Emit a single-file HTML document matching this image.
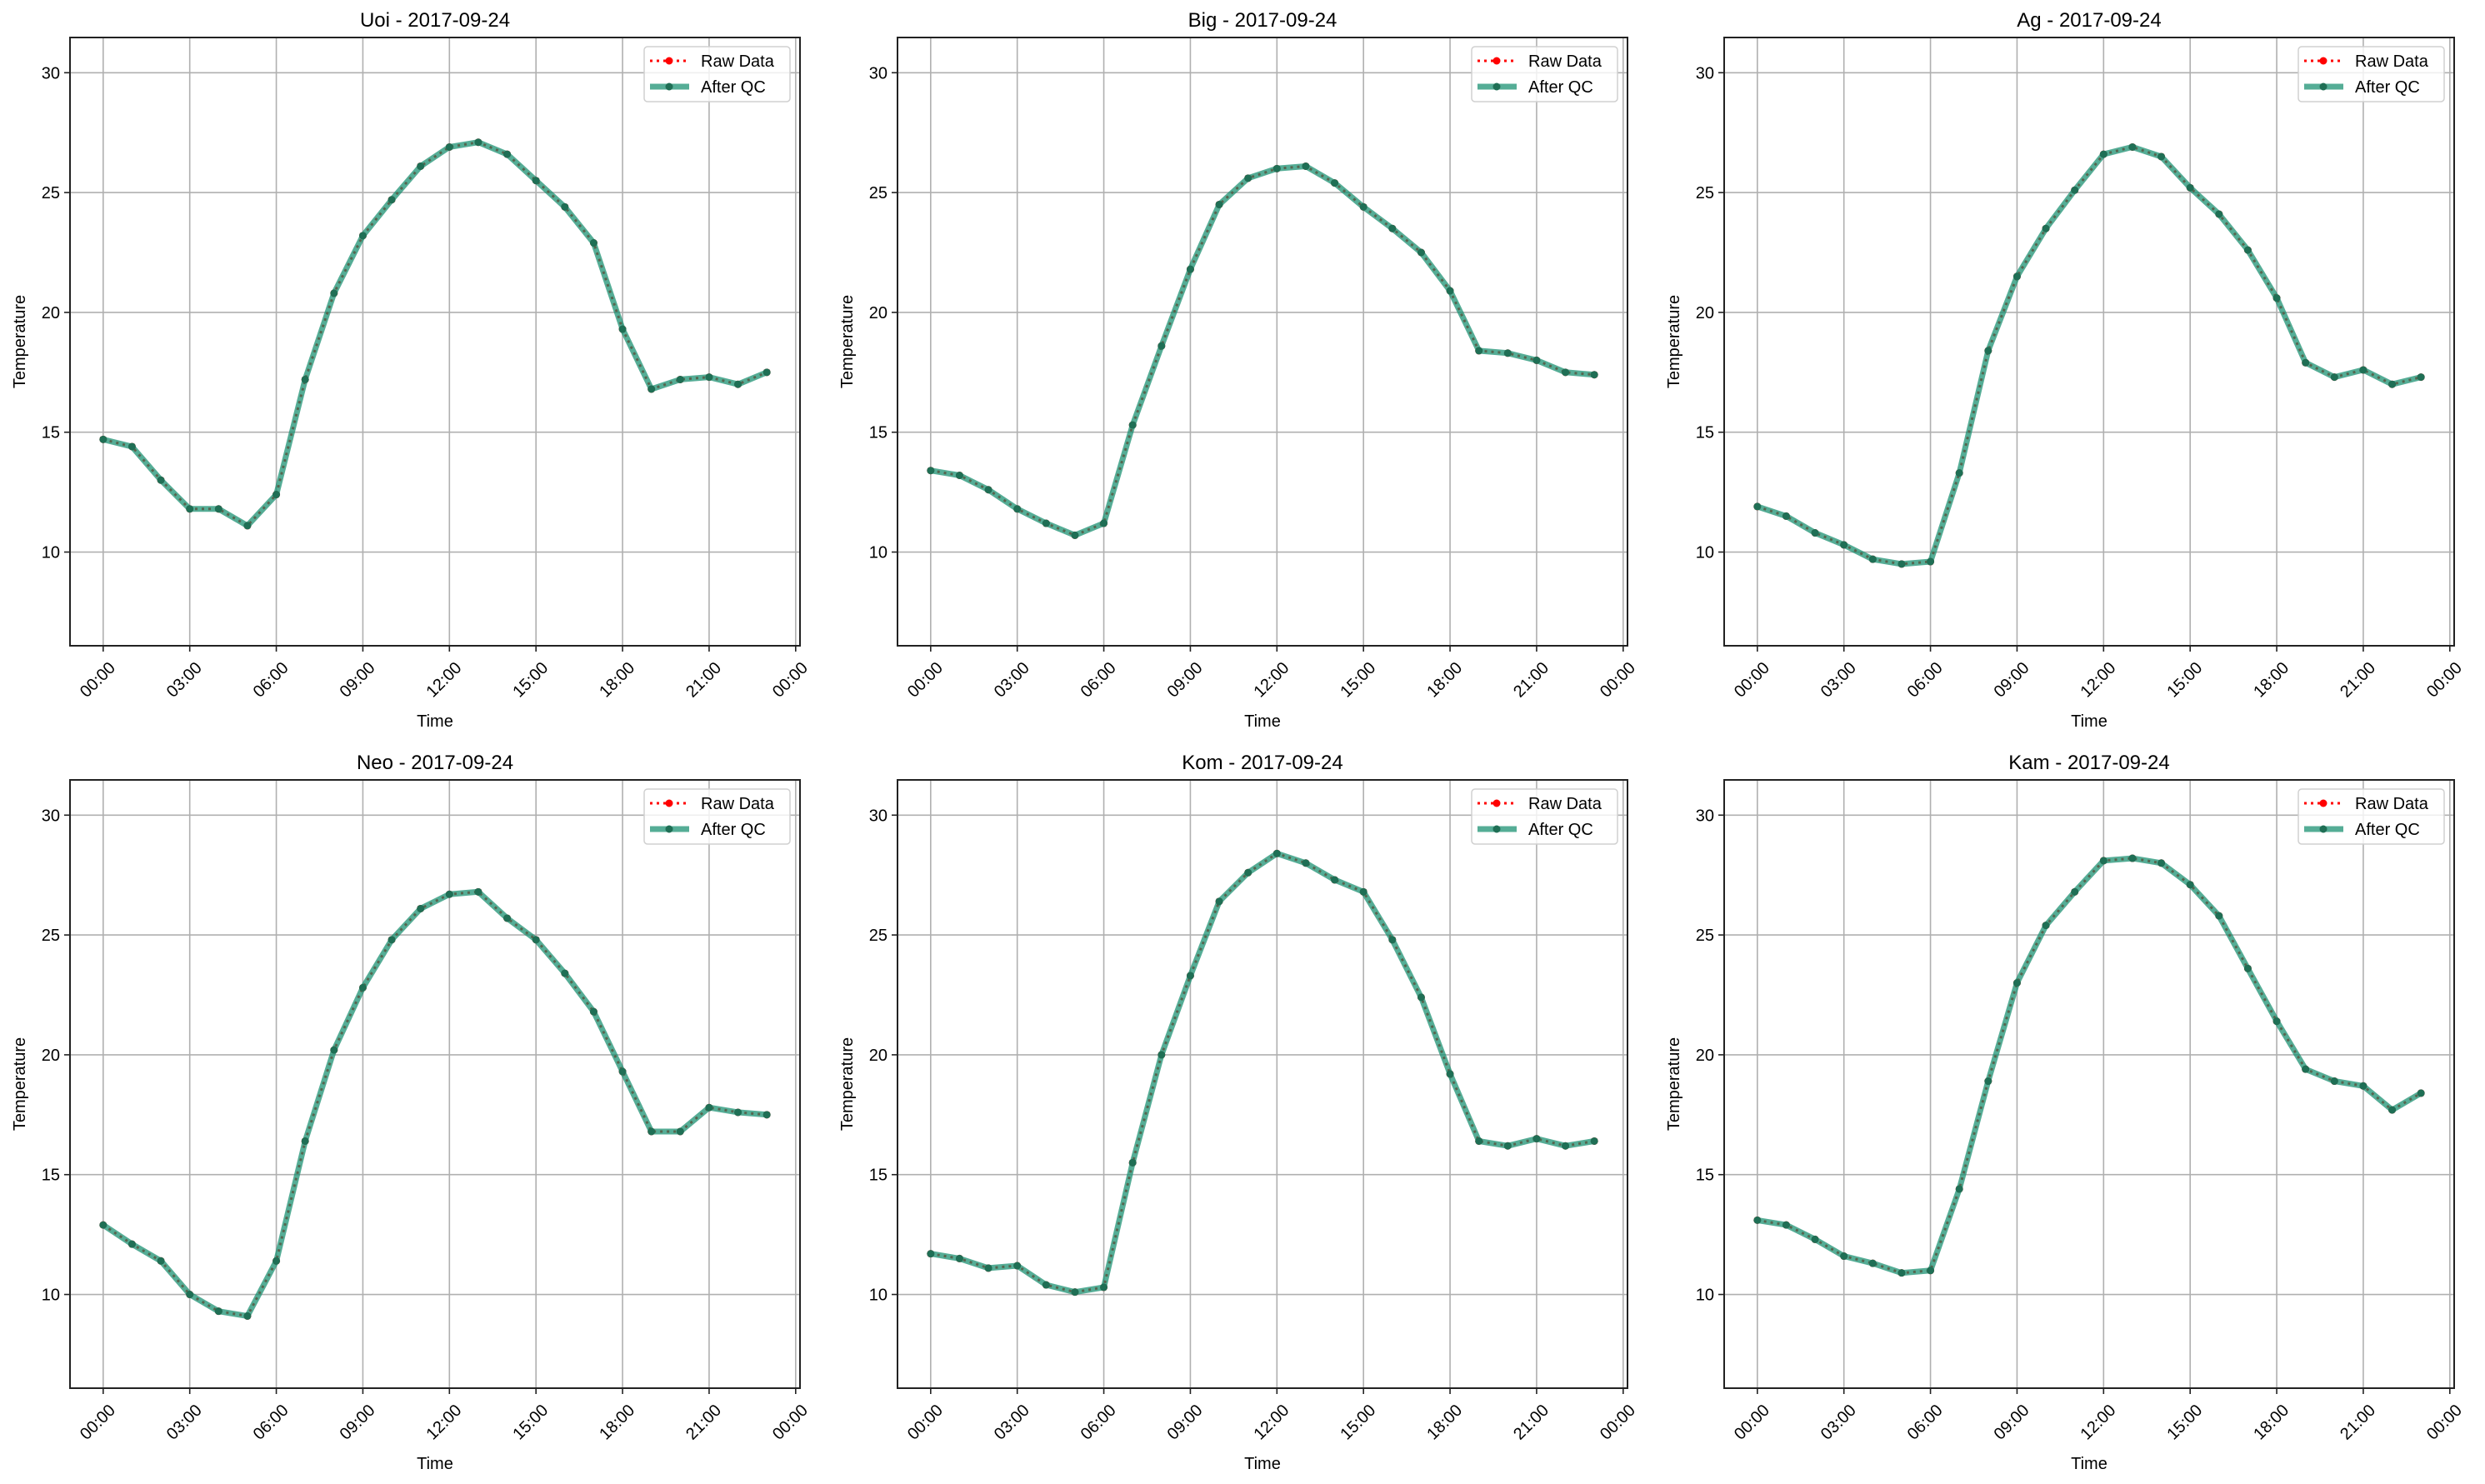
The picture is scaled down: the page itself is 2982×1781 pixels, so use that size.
<!DOCTYPE html>
<html><head><meta charset="utf-8"><style>
html,body{margin:0;padding:0;background:#fff;}
svg{display:block;font-family:"Liberation Sans","DejaVu Sans",sans-serif;}
</style></head><body>
<svg id="fig" width="2982" height="1781" viewBox="0 0 2982 1781" xmlns="http://www.w3.org/2000/svg"></svg>
<script>
const stations = ["Uoi","Big","Ag","Neo","Kom","Kam"];
const dateLabel = "2017-09-24";
const hours = [0,1,2,3,4,5,6,7,8,9,10,11,12,13,14,15,16,17,18,19,20,21,22,23];
const tUoi = [14.7,14.4,13.0,11.8,11.8,11.1,12.4,17.2,20.8,23.2,24.7,26.1,26.9,27.1,26.6,25.5,24.4,22.9,19.3,16.8,17.2,17.3,17.0,17.5];
const tBig = [13.4,13.2,12.6,11.8,11.2,10.7,11.2,15.3,18.6,21.8,24.5,25.6,26.0,26.1,25.4,24.4,23.5,22.5,20.9,18.4,18.3,18.0,17.5,17.4];
const tAg  = [11.9,11.5,10.8,10.3,9.7,9.5,9.6,13.3,18.4,21.5,23.5,25.1,26.6,26.9,26.5,25.2,24.1,22.6,20.6,17.9,17.3,17.6,17.0,17.3];
const tNeo = [12.9,12.1,11.4,10.0,9.3,9.1,11.4,16.4,20.2,22.8,24.8,26.1,26.7,26.8,25.7,24.8,23.4,21.8,19.3,16.8,16.8,17.8,17.6,17.5];
const tKom = [11.7,11.5,11.1,11.2,10.4,10.1,10.3,15.5,20.0,23.3,26.4,27.6,28.4,28.0,27.3,26.8,24.8,22.4,19.2,16.4,16.2,16.5,16.2,16.4];
const tKam = [13.1,12.9,12.3,11.6,11.3,10.9,11.0,14.4,18.9,23.0,25.4,26.8,28.1,28.2,28.0,27.1,25.8,23.6,21.4,19.4,18.9,18.7,17.7,18.4];
const seriesList = [tUoi,tBig,tAg,tNeo,tKom,tKam];
const yTicks = [10,15,20,25,30];
const xTicks = [0,3,6,9,12,15,18,21,24];
const xTickLabels = ["00:00","03:00","06:00","09:00","12:00","15:00","18:00","21:00","00:00"];
const xMin=-1.15, xMax=24.15, yMin=6.09, yMax=31.47;

const NS="http://www.w3.org/2000/svg";
const fig=document.getElementById('fig');
function mk(tag,attrs,parent){const e=document.createElementNS(NS,tag);for(const k in attrs)e.setAttribute(k,attrs[k]);parent.appendChild(e);return e;}
const lefts=[84,1077,2069], tops=[45,936], W=876, H=730;

stations.forEach((st,i)=>{
  const L=lefts[i%3], T=tops[Math.floor(i/3)];
  const sx=v=>L+(v-xMin)/(xMax-xMin)*W;
  const sy=v=>T+H-(v-yMin)/(yMax-yMin)*H;
  const g=mk('g',{},fig);
  
  
  // grid
  xTicks.forEach((h,k)=>{
    const x=sx(h);
    const gl=mk('line',{x1:x,x2:x,y1:T,y2:T+H,stroke:'#b0b0b0','stroke-width':1.6},g);
    
    
    mk('line',{x1:x,x2:x,y1:T+H,y2:T+H+7,stroke:'#222','stroke-width':1.6},g);
    const tx=mk('text',{x:x+6,y:T+H+18,'font-size':20,'text-anchor':'end',fill:'#000',transform:`rotate(-45 ${x+6} ${T+H+18})`,'dominant-baseline':'hanging'},g);
    tx.textContent=xTickLabels[k];
    
    
  });
  yTicks.forEach(v=>{
    const y=sy(v);
    const gl=mk('line',{x1:L,x2:L+W,y1:y,y2:y,stroke:'#b0b0b0','stroke-width':1.6},g);
    
    
    mk('line',{x1:L-7,x2:L,y1:y,y2:y,stroke:'#222','stroke-width':1.6},g);
    const tx=mk('text',{x:L-12,y:y+7,'font-size':20,'text-anchor':'end',fill:'#000'},g);
    tx.textContent=v;
    
    
  });
  const data=seriesList[i];
  const pts=hours.map((h,k)=>sx(h).toFixed(1)+','+sy(data[k]).toFixed(1)).join(' ');
  const raw=mk('polyline',{points:pts,fill:'none',stroke:'#ff0000','stroke-width':3,'stroke-dasharray':'3 5'},g);
  
  
  hours.forEach((h,k)=>{mk('circle',{cx:sx(h),cy:sy(data[k]),r:4.5,fill:'#ff0000'},g);});
  const qc=mk('polyline',{points:pts,fill:'none',stroke:'#138d6e','stroke-opacity':0.72,'stroke-width':7,'stroke-linejoin':'round'},g);
  
  
  hours.forEach((h,k)=>{
    const c=mk('circle',{cx:sx(h),cy:sy(data[k]),r:4.5,fill:'#1f6f55'},g);
    
    
  });
  // frame
  const fr=mk('rect',{x:L,y:T,width:W,height:H,fill:'none',stroke:'#222','stroke-width':2},g);
  
  
  const ti=mk('text',{x:L+W/2,y:T-13,'font-size':24,'text-anchor':'middle',fill:'#000'},g);
  ti.textContent=st+' - '+dateLabel;
  
  
  const yl=mk('text',{x:L-54,y:T+H/2,'font-size':20,'text-anchor':'middle',fill:'#000',transform:`rotate(-90 ${L-54} ${T+H/2})`},g);
  yl.textContent='Temperature';
  
  
  const xl=mk('text',{x:L+W/2,y:T+H+97,'font-size':20,'text-anchor':'middle',fill:'#000'},g);
  xl.textContent='Time';
  
  
  // legend
  const lg=mk('g',{},g);
  
  
  const lx=L+W-187, ly=T+11;
  mk('rect',{x:lx,y:ly,width:175,height:66,rx:4,fill:'#fff','fill-opacity':0.8,stroke:'#d0d0d0','stroke-width':1.5},lg);
  mk('line',{x1:lx+7,x2:lx+54,y1:ly+17,y2:ly+17,stroke:'#ff0000','stroke-width':3,'stroke-dasharray':'3 5'},lg);
  mk('circle',{cx:lx+30,cy:ly+17,r:4.5,fill:'#ff0000'},lg);
  const t1=mk('text',{x:lx+68,y:ly+24,'font-size':20,fill:'#000'},lg);
  t1.textContent='Raw Data';
  
  
  mk('line',{x1:lx+7,x2:lx+54,y1:ly+48,y2:ly+48,stroke:'#138d6e','stroke-opacity':0.72,'stroke-width':7},lg);
  mk('circle',{cx:lx+30,cy:ly+48,r:4.5,fill:'#1f6f55'},lg);
  const t2=mk('text',{x:lx+68,y:ly+55,'font-size':20,fill:'#000'},lg);
  t2.textContent='After QC';
  
  
});
</script>
</body></html>
